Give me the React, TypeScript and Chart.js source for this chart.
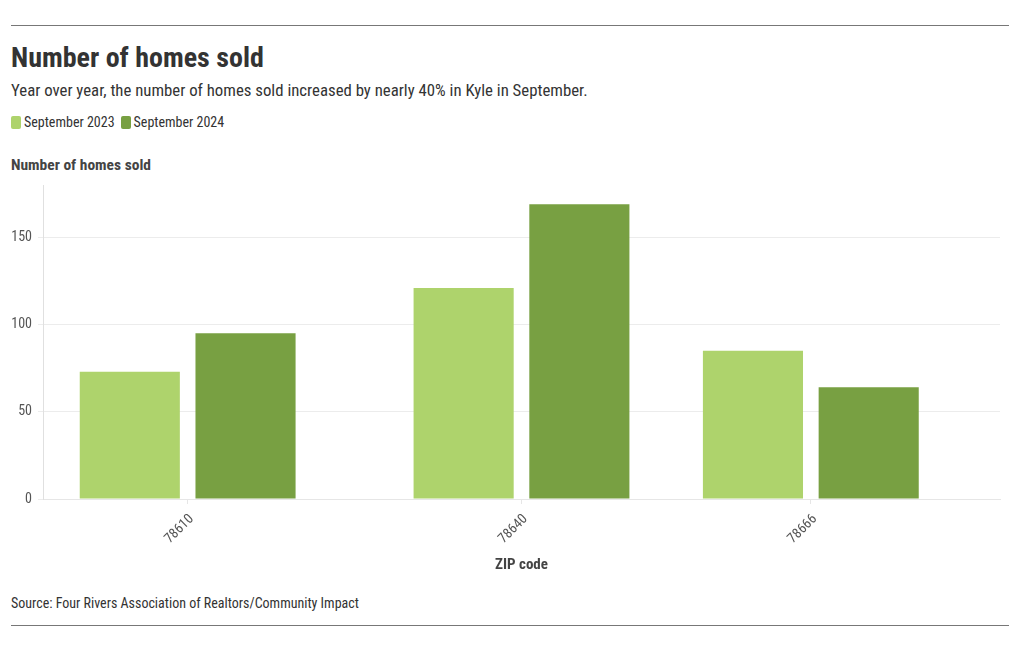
import React, { useEffect, useRef } from "react";
import { Chart, registerables } from "chart.js";

Chart.register(...registerables);

const zipCodes = [78610, 78640, 78666];
const sept2023 = [73, 121, 85];
const sept2024 = [95, 169, 64];
const yTickValues = [0, 50, 100, 150];
const seriesNames = ["September 2023", "September 2024"];
const seriesColors = ["#aed36c", "#78a042"];

const FONT = '"Roboto Condensed", "Liberation Sans Narrow", "DejaVu Sans Condensed", Roboto, sans-serif';

export default function App() {
  const canvasRef = useRef<HTMLCanvasElement | null>(null);

  useEffect(() => {
    if (!canvasRef.current) return;
    const chart = new Chart(canvasRef.current, {
      type: "bar",
      data: {
        datasets: [sept2023, sept2024].map((vals, i) => ({
          label: seriesNames[i],
          data: zipCodes.map((z, j) => ({ x: z, y: vals[j] })),
          backgroundColor: seriesColors[i],
          borderWidth: 0,
          categoryPercentage: 0.8,
          barPercentage: 0.865,
        })),
      },
      options: {
        animation: false,
        responsive: true,
        maintainAspectRatio: false,
        layout: { padding: { top: 15, right: 9, left: 0, bottom: 0 } },
        plugins: { legend: { display: false }, tooltip: { enabled: false } },
        scales: {
          x: {
            type: "linear",
            min: 78597.0,
            max: 78683.0,
            offset: false,
            afterBuildTicks: (s: any) => {
              s.ticks = zipCodes.map((v) => ({ value: v }));
            },
            afterFit: (s: any) => {
              s.height = 77;
            },
            ticks: {
              autoSkip: false,
              maxRotation: 45,
              minRotation: 45,
              padding: 7,
              labelOffset: 4,
              color: "#555",
              font: { family: FONT, size: 14 },
              callback: (v: any) => String(v),
            },
            grid: {
              drawOnChartArea: false,
              tickLength: 5,
              color: "#e6e6e6",
              offset: false,
            },
            border: { color: "#e6e6e6" },
            title: {
              display: true,
              text: "ZIP code",
              color: "#444",
              padding: { top: 4, bottom: 2 },
              font: { family: FONT, size: 15, weight: "bold" },
            },
          },
          y: {
            min: 0,
            max: 180,
            afterBuildTicks: (s: any) => {
              s.ticks = yTickValues.map((v) => ({ value: v }));
            },
            afterFit: (s: any) => {
              s.width = 32;
            },
            ticks: {
              padding: 6,
              color: "#555",
              font: { family: FONT, size: 14 },
            },
            grid: { color: "#ececec", tickLength: 5 },
            border: { color: "#e0e0e0" },
          },
        },
      },
    });
    return () => chart.destroy();
  }, []);

  const abs = (top: number, left: number): React.CSSProperties => ({
    position: "absolute",
    top: top - 8,
    left: left - 8,
    whiteSpace: "nowrap",
  });

  return (
    <div style={{ position: "relative", width: 1004, height: 634, fontFamily: FONT, color: "#333" }}>
      <div style={{ ...abs(25, 11), width: 998, borderTop: "1px solid #777" }} />
      <div style={{ ...abs(40, 11), fontSize: 28, fontWeight: 700, lineHeight: "36px", color: "#333" }}>
        Number of homes sold
      </div>
      <div style={{ ...abs(80, 11), fontSize: 16.8, lineHeight: "20px", color: "#333" }}>
        Year over year, the number of homes sold increased by nearly 40% in Kyle in September.
      </div>
      <div style={{ ...abs(113, 11), display: "flex", alignItems: "center", fontSize: 14, lineHeight: "18px", color: "#333" }}>
        {seriesNames.map((n, i) => (
          <span key={n} style={{ display: "inline-flex", alignItems: "center", marginRight: 6 }}>
            <span style={{ display: "inline-block", width: 10, height: 13, borderRadius: 2, background: seriesColors[i], marginRight: 3 }} />
            {n}
          </span>
        ))}
      </div>
      <div style={{ ...abs(155, 11), fontSize: 15.5, fontWeight: 700, lineHeight: "20px", color: "#444" }}>
        Number of homes sold
      </div>
      <div style={{ ...abs(170, 11), width: 998, height: 406 }}>
        <canvas ref={canvasRef} />
      </div>
      <div style={{ ...abs(593, 11), fontSize: 14, lineHeight: "20px", color: "#333" }}>
        Source: Four Rivers Association of Realtors/Community Impact
      </div>
      <div style={{ ...abs(625, 11), width: 998, borderTop: "1px solid #777" }} />
    </div>
  );
}
